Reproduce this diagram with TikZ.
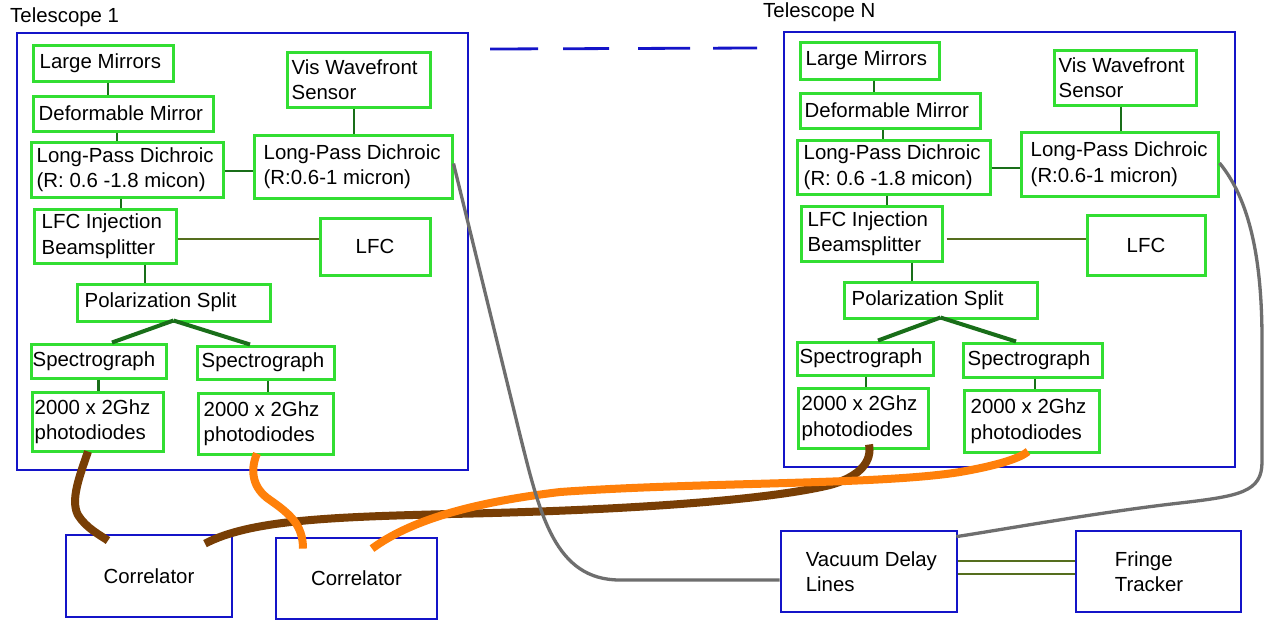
\documentclass[tikz,border=0pt]{standalone}
\usepackage{fontspec}
\setmainfont{Liberation Sans}
\definecolor{gboxc}{RGB}{50,222,50}
\definecolor{bluec}{RGB}{20,20,200}
\definecolor{dgreen}{RGB}{25,110,25}
\definecolor{olivec}{RGB}{85,110,30}
\definecolor{grayc}{RGB}{110,110,110}
\definecolor{brownc}{RGB}{120,62,5}
\definecolor{orangec}{RGB}{255,128,10}
\newcommand\mkbox[8]{%
  \node[#1, minimum width=#5pt, minimum height=#6pt] (#2) at (#3,#4) {};
  \node[txt, anchor=west] (#2-t) at ([xshift=#7pt]#2.west) {#8};
}
\tikzset{
  gbox/.style={draw=gboxc, line width=3pt, inner sep=0pt},
  bbox/.style={draw=bluec, line width=2.8pt, inner sep=0pt},
  txt/.style={inner sep=0pt, align=left},
  conn/.style={draw=dgreen, line width=2.6pt},
  pconn/.style={draw=dgreen, line width=4pt},
  oconn/.style={draw=olivec, line width=2.6pt},
  fiber/.style={line width=8pt},
  grayline/.style={draw=grayc, line width=3.3pt}
}
\begin{document}
\begin{tikzpicture}[x=1pt, y=-1pt, font=\fontsize{20.4pt}{25.5pt}\selectfont]
\useasboundingbox (0,0) rectangle (1266,622);
\fill[white] (0,0) rectangle (1266,622);

% Telescope frames
\node[bbox, minimum width=451pt, minimum height=437pt] (tel1) at (242.5,251.5) {};
\node[bbox, minimum width=451pt, minimum height=435pt] (teln) at (1009.5,249.5) {};
\node[txt, anchor=base west] (tel1-l) at (10,22) {Telescope 1};
\node[txt, anchor=base west] (teln-l) at (763,17) {Telescope N};
\coordinate (dashA) at (490,49);
\coordinate (dashB) at (757,48);
\draw[bluec, line width=2.8pt, dash pattern=on 48pt off 25pt on 46pt off 29pt on 52pt off 23pt on 44pt] (dashA) -- (dashB);

% Telescope 1
\mkbox{gbox}{lm1}{103}{63}{140}{36}{8}{Large Mirrors}
\mkbox{gbox}{dm1}{123}{113.5}{180}{35}{7}{Deformable Mirror}
\mkbox{gbox}{lpdl1}{127}{169.5}{192}{55}{7}{Long-Pass Dichroic\\(R: 0.6 -1.8 micon)}
\mkbox{gbox}{vws1}{358.5}{79.5}{143}{55}{6}{Vis Wavefront\\Sensor}
\mkbox{gbox}{lpdr1}{353}{166.5}{198}{63}{11}{Long-Pass Dichroic\\(R:0.6-1 micron)}
\mkbox{gbox}{lfci1}{105}{236}{142}{54}{9}{LFC Injection\\Beamsplitter}
\node[gbox, minimum width=110pt, minimum height=57pt] (lfc1) at (375,246.5) {LFC};
\mkbox{gbox}{ps1}{173.5}{302.5}{193}{37}{9}{Polarization Split}
\mkbox{gbox}{sp1a}{98.5}{361}{135}{34}{3}{Spectrograph}
\mkbox{gbox}{sp1b}{265.5}{362.5}{137}{33}{6}{Spectrograph}
\mkbox{gbox}{pd1a}{97.5}{421.5}{131}{59}{4}{2000 x 2Ghz\\photodiodes}
\mkbox{gbox}{pd1b}{265.5}{423.5}{135}{61}{7}{2000 x 2Ghz\\photodiodes}

\draw[conn] ([xshift=5pt]lm1.south) -- ([xshift=5pt]lm1.south |- dm1.north);
\draw[conn] ([xshift=-6pt]dm1.south) -- ([xshift=-6pt]dm1.south |- lpdl1.north);
\draw[conn] ([xshift=-6pt]lpdl1.south) -- ([xshift=-6pt]lpdl1.south |- lfci1.north);
\draw[conn] ([yshift=-1.5pt]lpdl1.east) -- ([yshift=-1.5pt]lpdl1.east -| lpdr1.west);
\draw[conn] ([xshift=-4.5pt]vws1.south) -- ([xshift=-4.5pt]vws1.south |- lpdr1.north);
\draw[oconn] ([yshift=-3pt]lfci1.east) -- ([yshift=-3pt]lfci1.east -| lfc1.west);
\draw[conn] ([xshift=40pt]lfci1.south) -- ([xshift=40pt]lfci1.south |- ps1.north);
\draw[pconn] ([yshift=2pt]ps1.south) -- ([xshift=13.5pt]sp1a.north);
\draw[pconn] ([yshift=2pt]ps1.south) -- ([xshift=-15.5pt]sp1b.north);
\draw[conn] (sp1a.south) -- (sp1a.south |- pd1a.north);
\draw[conn] ([xshift=2.5pt]sp1b.south) -- ([xshift=2.5pt]sp1b.south |- pd1b.north);

% Telescope N
\mkbox{gbox}{lmn}{869.5}{60.5}{139}{37}{7}{Large Mirrors}
\mkbox{gbox}{dmn}{890}{110.5}{180}{35}{6}{Deformable Mirror}
\mkbox{gbox}{lpdln}{893.5}{167}{193}{54}{8}{Long-Pass Dichroic\\(R: 0.6 -1.8 micon)}
\mkbox{gbox}{vwsn}{1125}{77.5}{142}{55}{6}{Vis Wavefront\\Sensor}
\mkbox{gbox}{lpdrn}{1119.5}{164}{197}{64}{11}{Long-Pass Dichroic\\(R:0.6-1 micron)}
\mkbox{gbox}{lfcin}{871.5}{233.5}{141}{55}{8}{LFC Injection\\Beamsplitter}
\node[gbox, minimum width=118pt, minimum height=60pt] (lfcn) at (1146,245) {LFC};
\mkbox{gbox}{psn}{940.5}{300}{193}{36}{9}{Polarization Split}
\mkbox{gbox}{spna}{865}{358.5}{136}{33}{4}{Spectrograph}
\mkbox{gbox}{spnb}{1032.5}{360}{139}{34}{6}{Spectrograph}
\mkbox{gbox}{pdna}{863}{418}{130}{60}{5}{2000 x 2Ghz\\photodiodes}
\mkbox{gbox}{pdnb}{1031.5}{421}{135}{62}{8}{2000 x 2Ghz\\photodiodes}

\draw[conn] ([xshift=4.5pt]lmn.south) -- ([xshift=4.5pt]lmn.south |- dmn.north);
\draw[conn] ([xshift=-7pt]dmn.south) -- ([xshift=-7pt]dmn.south |- lpdln.north);
\draw[conn] ([xshift=-6.5pt]lpdln.south) -- ([xshift=-6.5pt]lpdln.south |- lfcin.north);
\draw[conn] ([yshift=-1pt]lpdln.east) -- ([yshift=-1pt]lpdln.east -| lpdrn.west);
\draw[conn] ([xshift=-4pt]vwsn.south) -- ([xshift=-4pt]vwsn.south |- lpdrn.north);
\draw[oconn] ([xshift=3pt,yshift=-5.5pt]lfcin.east) -- ([yshift=-5.5pt]lfcin.east -| lfcn.west);
\draw[conn] ([xshift=40.5pt]lfcin.south) -- ([xshift=40.5pt]lfcin.south |- psn.north);
\draw[pconn] ([yshift=2pt]psn.south) -- ([xshift=13pt]spna.north);
\draw[pconn] ([yshift=2pt]psn.south) -- ([xshift=-16.5pt]spnb.north);
\draw[conn] ([xshift=1pt]spna.south) -- ([xshift=1pt]spna.south |- pdna.north);
\draw[conn] ([xshift=2.5pt]spnb.south) -- ([xshift=2.5pt]spnb.south |- pdnb.north);

% Bottom boxes
\node[bbox, minimum width=166pt, minimum height=82pt] (cor1) at (149,576) {Correlator};
\node[bbox, minimum width=161pt, minimum height=81pt] (cor2) at (356.5,578.5) {Correlator};
\mkbox{bbox}{vdl}{869}{571.5}{176}{81}{26}{Vacuum Delay\\Lines}
\mkbox{bbox}{ft}{1158.5}{571.5}{165}{81}{40}{Fringe\\Tracker}
\draw[oconn] ([yshift=10.5pt]vdl.east) -- ([yshift=10.5pt]vdl.east -| ft.west);
\draw[oconn] ([yshift=-2.5pt]vdl.east) -- ([yshift=-2.5pt]vdl.east -| ft.west);

% Fibers
\draw[fiber, brownc] ([xshift=-9.5pt,yshift=1pt]pd1a.south) .. controls (80,475) and (70,500) .. (78,515)
   .. controls (86,528) and (100,535) .. ([xshift=-41pt,yshift=-7pt]cor1.north);
\draw[fiber, brownc] ([xshift=56pt,yshift=-10pt]cor1.north) .. controls (250,520) and (330,517) .. (450,514)
   .. controls (600,511) and (760,502) .. (830,485)
   .. controls (862,476) and (872,460) .. ([xshift=6pt,yshift=5pt]pdna.south);
\draw[fiber, orangec] ([xshift=-8.5pt,yshift=2pt]pd1b.south) .. controls (250,470) and (252,488) .. (270,500)
   .. controls (290,514) and (303,525) .. ([xshift=-53.5pt,yshift=-12pt]cor2.north);
\draw[fiber, orangec] ([xshift=15.5pt,yshift=-12pt]cor2.north) .. controls (400,528) and (450,505) .. (560,492)
   .. controls (700,482) and (880,485) .. (960,472)
   .. controls (1000,465) and (1020,458) .. ([xshift=-3.5pt,yshift=2pt]pdnb.south);

% Vacuum lines
\draw[grayline] ([yshift=3pt]lpdr1.east) -- (520,435) .. controls (540,515) and (555,580) .. (620,580)
   -- ([yshift=-8.5pt]vdl.west);
\draw[grayline] ([yshift=1pt]lpdrn.east) .. controls (1250,200) and (1262,260) .. (1262,340)
   -- (1262,462) .. controls (1262,492) and (1240,496) .. (1180,503)
   .. controls (1100,512) and (1000,530) .. ([xshift=-2pt,yshift=-7pt]vdl.north east);
\end{tikzpicture}
\end{document}
